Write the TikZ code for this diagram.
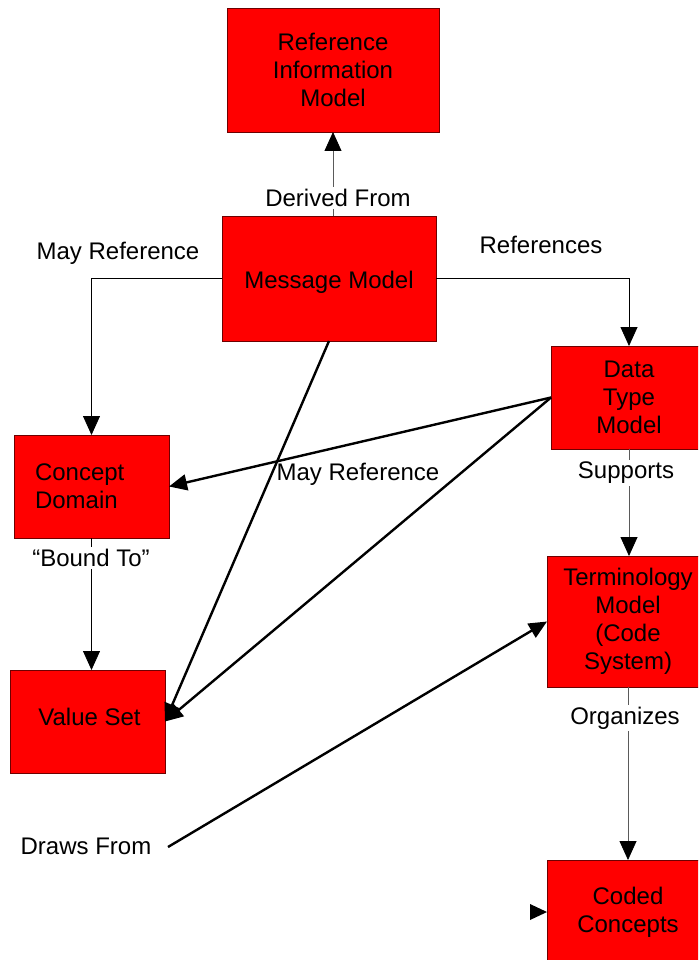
\documentclass[tikz,border=0pt]{standalone}
\usepackage{fontspec}
\setmainfont{Liberation Sans}
\usetikzlibrary{arrows.meta,calc}
\definecolor{boxedge}{RGB}{110,0,0}
\definecolor{boxfill}{RGB}{255,0,0}
\definecolor{linkgray}{RGB}{90,90,90}
\begin{document}
\begin{tikzpicture}[x=1pt,y=-1pt,
  txt/.style={font=\fontsize{24}{28}\selectfont},
  box/.style={txt, rectangle, draw=boxedge, fill=boxfill, line width=0.8pt,
    inner sep=0pt, outer sep=0pt, align=center},
  lbl/.style={txt, inner sep=2pt},
  cutlbl/.style={lbl, fill=white},
  headtip/.style={-{Triangle[length=19pt,width=17pt,color=black]}},
  plainlink/.style={line width=0.8pt, black, headtip},
  graylink/.style={line width=0.8pt, linkgray, headtip},
  heavylink/.style={line width=2.4pt, black, -{Triangle[length=18pt,width=16pt]}}
]
\clip (0,0) rectangle (698,960);
\fill[white] (0,0) rectangle (698,960);

% boxes
\node[box, minimum width=212pt, minimum height=124pt] (rim) at (333,70)
  {Reference\\Information\\Model};
\node[box, minimum width=214pt, minimum height=125pt,
  text height=25pt, text depth=5pt] (mm) at (329,278.5)
  {Message Model};
\node[box, minimum width=156pt, minimum height=103pt] (dtm) at (629,397.5)
  {Data\\Type\\Model};
\node[box, minimum width=155pt, minimum height=103pt, text width=113pt,
  inner xsep=21pt, align=left] (cd) at (91.5,486.5)
  {Concept\\Domain};
\node[box, minimum width=155pt, minimum height=103pt,
  text height=17.3pt, text depth=9pt] (vs) at (87.5,721.5)
  {\hspace{4pt}Value Set};
\node[box, minimum width=162pt, minimum height=131pt] (tm) at (628,621.5)
  {Terminology\\Model\\(Code\\System)};
\node[box, minimum width=162pt, minimum height=104pt] (cc) at (628,912)
  {Coded\\Concepts};

% connectors
\draw[graylink] (rim.south |- mm.north) -- (rim.south);
\draw[plainlink] (mm.west) -| (cd.north);
\draw[plainlink] (mm.east) -| (dtm.north);
\draw[graylink] (dtm.south) -- (dtm.south |- tm.north);
\draw[plainlink] (cd.south) -- (cd.south |- vs.north);
\draw[graylink] (tm.south) -- (tm.south |- cc.north);

\draw[heavylink] (dtm.west) -- (cd.east);
\draw[heavylink] (dtm.west) -- (vs.east);
\draw[heavylink] (mm.south) -- (vs.east);

\node[lbl] (drawsfrom) at (86,846) {Draws From};
\coordinate (drawstart) at (168,847);
\draw[heavylink] (drawstart) -- (tm.west);

% lone arrowhead at the left of Coded Concepts
\fill[black] (cc.west) -- ++(-17,-8) -- ++(0,16) -- cycle;

% labels
\node[cutlbl] (lderived) at (338,198) {Derived From};
\node[lbl] (lmayref) at (118,253) {May Reference};
\node[lbl] (lrefs) at (541,245) {References};
\node[lbl] (lmayref2) at (358,474) {May Reference};
\node[cutlbl] (lsupports) at (626,473) {Supports};
\node[cutlbl] (lbound) at (91,558) {“Bound To”};
\node[cutlbl] (lorganizes) at (625,718) {Organizes};
\end{tikzpicture}
\end{document}
